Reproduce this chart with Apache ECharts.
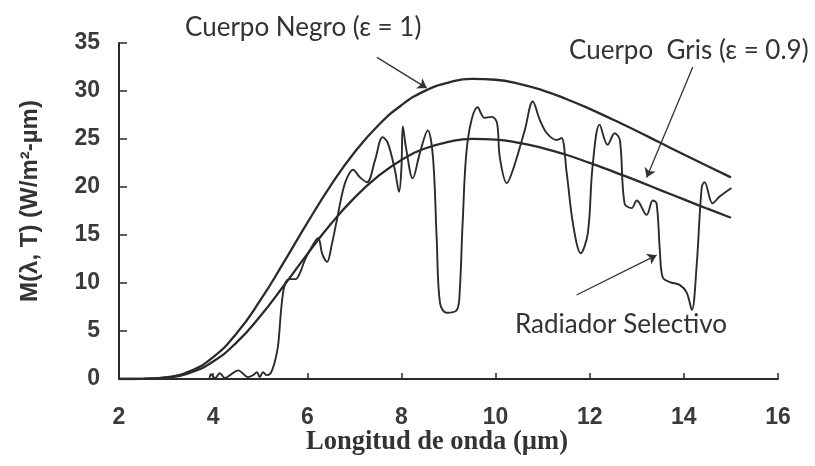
<!DOCTYPE html>
<html>
<head>
<meta charset="utf-8">
<script src="https://cdn.jsdelivr.net/npm/echarts@6/dist/echarts.min.js"></script>
<style>
  html, body { margin: 0; padding: 0; background: #fff; }
  #chart { width: 815px; height: 466px; }
</style>
</head>
<body>
<div id="chart"></div>
<script>
// longitudes de onda para las curvas de cuerpo negro y gris (µm)
var lambdas = [2, 2.5, 3, 3.5, 4, 4.5, 5, 5.5, 6, 6.5, 7, 7.5, 8, 8.5, 9, 9.5, 10, 10.5, 11, 11.5, 12, 12.5, 13, 13.5, 14, 14.5, 15];
var cuerpoNegro = [0, 0.02, 0.18, 0.8, 2.27, 4.77, 8.18, 12.14, 16.26, 20.17, 23.59, 26.38, 28.52, 30.01, 30.88, 31.26, 31.17, 30.75, 30.07, 29.17, 28.14, 27.0, 25.84, 24.6, 23.39, 22.18, 21.0];
var cuerpoGris = [0, 0.02, 0.14, 0.64, 1.82, 3.82, 6.54, 9.71, 13.01, 16.14, 18.87, 21.1, 22.82, 24.01, 24.7, 25.01, 24.94, 24.6, 24.06, 23.36, 22.51, 21.6, 20.67, 19.68, 18.71, 17.74, 16.8];

// radiador selectivo, leido punto a punto
var selX = [2, 3.9, 3.95, 4.04, 4.14, 4.25, 4.36, 4.53, 4.74, 4.85, 4.93, 4.99, 5.06, 5.14, 5.22, 5.31, 5.38, 5.45, 5.52, 5.62, 5.75, 5.84, 5.95, 6.1, 6.23, 6.32, 6.42, 6.52, 6.63, 6.75, 6.84, 6.97, 7.12, 7.27, 7.44, 7.6, 7.71, 7.86, 7.95, 8.0, 8.03, 8.1, 8.24, 8.39, 8.56, 8.67, 8.75, 8.82, 8.96, 9.18, 9.24, 9.3, 9.41, 9.62, 9.77, 9.92, 10.03, 10.09, 10.24, 10.37, 10.62, 10.79, 10.94, 11.09, 11.3, 11.4, 11.51, 11.65, 11.81, 11.96, 12.06, 12.21, 12.38, 12.53, 12.64, 12.74, 12.89, 13.0, 13.21, 13.34, 13.42, 13.49, 13.55, 13.7, 13.91, 14.06, 14.17, 14.27, 14.38, 14.44, 14.61, 14.76, 15.01];
var selY = [0, 0, 0.5, 0.1, 0.6, 0.1, 0.4, 0.9, 0.2, 0.4, 0.7, 0.2, 0.7, 0.4, 0.6, 1.8, 3.5, 7.5, 9.8, 10.4, 10.4, 11.0, 12.4, 13.8, 14.7, 13.0, 12.2, 14.0, 16.6, 19.5, 20.9, 21.8, 21.0, 20.5, 22.8, 25.2, 24.6, 21.8, 19.5, 22.0, 26.3, 24.0, 20.9, 23.5, 25.9, 23.1, 14.5, 7.9, 6.9, 7.2, 9.3, 16.2, 24.9, 28.3, 27.2, 27.3, 26.7, 23.1, 20.4, 21.8, 25.9, 28.9, 27.0, 25.6, 24.9, 25.1, 21.5, 16.0, 13.1, 15.2, 22.1, 26.5, 24.4, 25.6, 24.9, 18.3, 17.8, 18.6, 17.1, 18.6, 18.3, 13.4, 10.6, 10.1, 9.8, 9.0, 7.2, 11.7, 20.0, 20.5, 18.3, 19.0, 19.9];

var xTicks = [2, 16, 2];   // min, max, intervalo
var yTicks = [0, 35, 5];

var chart = echarts.init(document.getElementById('chart'));

function pares(xs, ys) {
  return xs.map(function (x, i) { return [x, ys[i]]; });
}

var tinta = '#2b2b2b';
var flecha = {
  symbol: ['none', 'arrow'],
  symbolSize: 9,
  silent: true,
  label: { show: false },
  lineStyle: { color: '#333', width: 1.3, type: 'solid' },
  data: [
    [{ coord: [7.48, 33.5] }, { coord: [8.54, 30.3] }],
    [{ coord: [14.19, 32.5] }, { coord: [13.21, 21.0] }],
    [{ coord: [11.72, 8.75] }, { coord: [13.42, 12.9] }]
  ]
};

var etiqueta = { fontFamily: 'Lato', fontSize: 26, fill: '#333', verticalAlign: 'middle' };
// numeros de los ejes, con estilo rich para que se respete el tamaño
var numeros = {
  formatter: '{n|{value}}',
  rich: { n: { fontFamily: 'Liberation Sans', fontWeight: 'bold', fontSize: 23, color: '#3a3a3a' } }
};

var option = {
  backgroundColor: '#fff',
  animation: false,
  grid: { left: 119, right: 37, top: 43, bottom: 87 },
  xAxis: {
    type: 'value',
    min: xTicks[0], max: xTicks[1], interval: xTicks[2],
    axisLine: { lineStyle: { color: tinta, width: 2 } },
    axisTick: { inside: true, length: 6, lineStyle: { color: tinta, width: 1.5 } },
    axisLabel: Object.assign({ margin: 27 }, numeros),
    splitLine: { show: false }
  },
  yAxis: {
    type: 'value',
    min: yTicks[0], max: yTicks[1], interval: yTicks[2],
    axisLine: { show: true, lineStyle: { color: tinta, width: 2 } },
    axisTick: { show: true, inside: true, length: 8, lineStyle: { color: tinta, width: 1.5 } },
    axisLabel: Object.assign({ margin: 19 }, numeros),
    splitLine: { show: false }
  },
  series: [
    {
      name: 'Cuerpo Negro',
      type: 'line',
      data: pares(lambdas, cuerpoNegro),
      smooth: true,
      showSymbol: false,
      lineStyle: { color: tinta, width: 2.3 },
      markLine: flecha
    },
    {
      name: 'Cuerpo Gris',
      type: 'line',
      data: pares(lambdas, cuerpoGris),
      smooth: true,
      showSymbol: false,
      lineStyle: { color: tinta, width: 2.3 }
    },
    {
      name: 'Radiador Selectivo',
      type: 'line',
      data: pares(selX, selY),
      smooth: 0.35,
      showSymbol: false,
      lineStyle: { color: tinta, width: 1.9 }
    }
  ],
  graphic: [
    { type: 'text', x: 185, y: 28, style: Object.assign({ text: 'Cuerpo Negro (ε = 1)' }, etiqueta) },
    { type: 'text', x: 569, y: 51, style: Object.assign({ text: 'Cuerpo  Gris (ε = 0.9)' }, etiqueta) },
    { type: 'text', x: 515, y: 325, style: Object.assign({ text: 'Radiador Selectivo' }, etiqueta) },
    {
      type: 'text', x: 30, y: 201, rotation: Math.PI / 2,
      style: { text: 'M(λ, T) (W/m²-µm)', fontFamily: 'Liberation Sans', fontWeight: 'bold', fontSize: 24, fill: '#333', align: 'center', verticalAlign: 'middle' }
    },
    {
      type: 'text', x: 437, y: 442,
      style: { text: 'Longitud de onda (µm)', fontFamily: 'Liberation Serif', fontWeight: 'bold', fontSize: 26.5, fill: '#333', align: 'center', verticalAlign: 'middle' }
    }
  ]
};

option && chart.setOption(option);
</script>
</body>
</html>
